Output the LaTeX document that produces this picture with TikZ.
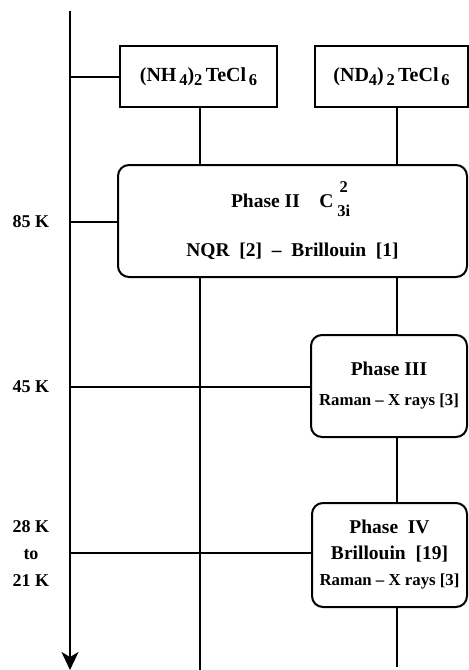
\documentclass[tikz,border=0pt]{standalone}
\usepackage{fontspec}
\setmainfont{Liberation Serif}
\usetikzlibrary{arrows.meta,positioning,calc}
\newcommand{\lowsub}[1]{\raisebox{-.45ex}{\fontsize{16.5}{16.5}\selectfont #1}}
\newcommand{\sym}[3]{#1\makebox[1.05em]{\raisebox{.78em}{\makebox[0pt]{\fontsize{16.5}{16.5}\selectfont #2}}\raisebox{-.42em}{\makebox[0pt]{\fontsize{16.5}{16.5}\selectfont #3}}}}
\newcommand{\meth}{\fontsize{16.8}{20}\selectfont}
\tikzset{
  salt/.style  = {draw=black, line width=2pt, align=center, inner sep=0pt,
                  font=\fontsize{20}{23}\selectfont\bfseries, fill=white},
  phase/.style = {draw=black, line width=2pt, rounded corners=11pt, align=center,
                  inner sep=0pt, font=\fontsize{19.5}{22}\selectfont\bfseries, fill=white},
  temp/.style  = {font=\fontsize{18}{21}\selectfont\bfseries, align=center},
  ln/.style    = {draw=black, line width=2pt},
  axis/.style  = {draw=black, line width=2.2pt, -{Stealth[length=18pt, width=17pt, inset=5pt]}},
}
\begin{document}
\begin{tikzpicture}[x=1pt, y=-1pt]
  \useasboundingbox (0,0) rectangle (469,670);
  % columns and temperature levels
  \coordinate (colA) at (200,0);
  \coordinate (colB) at (397,0);
  \coordinate (top) at (70,11);
  \coordinate (bot) at (70,670);
  \coordinate (l0) at (70,77);
  \coordinate (l1) at (70,222);
  \coordinate (l2) at (70,387);
  \coordinate (l3) at (70,553);
  \coordinate (endA) at (200,670);
  \coordinate (endB) at (397,667);
  % nodes
  \node[salt, minimum width=157pt, minimum height=61pt] (nh) at (198.5,76.5)
    {(NH\lowsub{\,4})\lowsub{2}\,TeCl\lowsub{\,6}};
  \node[salt, minimum width=153pt, minimum height=61pt] (nd) at (391.5,76.5)
    {(ND\lowsub{4})\lowsub{\,2}\,TeCl\lowsub{\,6}};
  \node[phase, minimum width=349pt, minimum height=112pt] (ph2) at (292.5,221)
    {Phase II\quad\sym{C}{2}{3i}\\[27pt]NQR\enspace[2]\enspace--\enspace Brillouin\enspace[1]};
  \node[phase, minimum width=156pt, minimum height=102pt] (ph3) at (389,386)
    {Phase III\\[8pt]{\meth Raman -- X rays [3]}};
  \node[phase, minimum width=155pt, minimum height=104pt] (ph4) at (389.5,555)
    {Phase\enspace IV\\[4pt]Brillouin\enspace[19]\\[4pt]{\meth Raman -- X rays [3]}};
  \node[temp] (t1) at (31,222) {85 K};
  \node[temp] (t2) at (31,387) {45 K};
  \node[temp] (t3) at (31,554) {28 K\\[6pt]to\\[6pt]21 K};
  % connectors
  \draw[axis] (top) -- (bot);
  \draw[ln] (l0) -- (l0 -| nh.west);
  \draw[ln] (l1) -- (l1 -| ph2.west);
  \draw[ln] (l2) -- (l2 -| ph3.west);
  \draw[ln] (l3) -- (l3 -| ph4.west);
  \draw[ln] (colA |- nh.south) -- (colA |- ph2.north);
  \draw[ln] (colA |- ph2.south) -- (endA);
  \draw[ln] (colB |- nd.south) -- (colB |- ph2.north);
  \draw[ln] (colB |- ph2.south) -- (colB |- ph3.north);
  \draw[ln] (colB |- ph3.south) -- (colB |- ph4.north);
  \draw[ln] (colB |- ph4.south) -- (endB);
\end{tikzpicture}
\end{document}
